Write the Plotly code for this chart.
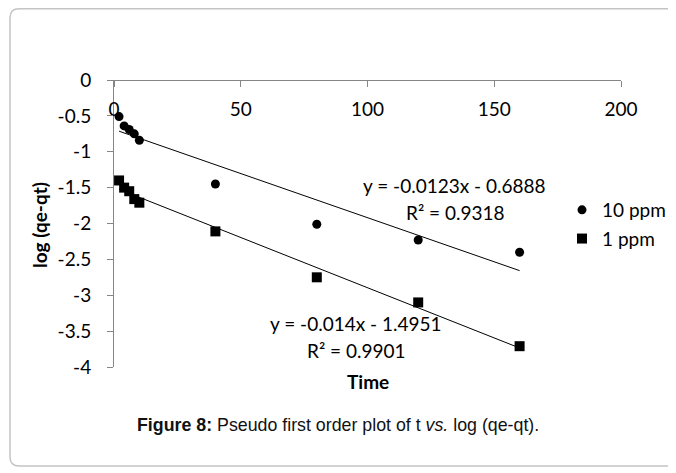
import plotly.graph_objects as go

# Data
time = [2, 4, 6, 8, 10, 40, 80, 120, 160]
log_10ppm = [-0.51, -0.64, -0.69, -0.75, -0.84, -1.45, -2.01, -2.23, -2.40]
log_1ppm = [-1.40, -1.50, -1.55, -1.66, -1.71, -2.11, -2.75, -3.10, -3.71]
series_names = ["10 ppm", "1 ppm"]
slopes = [-0.0123, -0.014]
intercepts = [-0.6888, -1.4951]
eq_texts = ["y = -0.0123x - 0.6888", "y = -0.014x - 1.4951"]
r2_texts = ["R² = 0.9318", "R² = 0.9901"]
x_ticks = [0, 50, 100, 150, 200]
y_ticks = [0, -0.5, -1, -1.5, -2, -2.5, -3, -3.5, -4]
y_ticktext = ["0", "-0.5", "-1", "-1.5", "-2", "-2.5", "-3", "-3.5", "-4"]

FONT = "Lato"
FS = 19

fig = go.Figure()

# trendlines
for s, b in zip(slopes, intercepts):
    xs = [time[0], time[-1]]
    fig.add_trace(go.Scatter(x=xs, y=[s * v + b for v in xs], mode="lines",
                             line=dict(color="black", width=1), showlegend=False,
                             hoverinfo="skip"))

fig.add_trace(go.Scatter(x=time, y=log_10ppm, mode="markers", name=series_names[0],
                         legendgroup="a",
                         marker=dict(symbol="circle", size=9, color="black")))
fig.add_trace(go.Scatter(x=time, y=log_1ppm, mode="markers", name=series_names[1],
                         legendgroup="b",
                         marker=dict(symbol="square", size=10, color="black")))

# page has an 8px body margin; work in page pixel coordinates
OFF = 8
W, H = 676 - OFF, 473 - OFF
L, R, T, B = 114 - OFF, 55, 80 - OFF, 106
pw, ph = W - L - R, H - T - B

def px(x):
    return (x - OFF - L) / pw

def py(y):
    return (H - B - (y - OFF)) / ph

annos = [
    dict(text=eq_texts[0], x=px(454), y=py(185)),
    dict(text=r2_texts[0], x=px(455), y=py(212)),
    dict(text=eq_texts[1], x=px(356), y=py(323)),
    dict(text=r2_texts[1], x=px(356), y=py(350)),
    dict(text="<b>Time</b>", x=px(368), y=py(381)),
    dict(text="<b>log (qe-qt)</b>", x=px(39), y=py(225), textangle=-90),
]
for a in annos:
    fig.add_annotation(xref="paper", yref="paper", showarrow=False,
                       xanchor="center", yanchor="middle",
                       font=dict(family=FONT, size=FS, color="black"), **a)

fig.add_annotation(xref="paper", yref="paper", showarrow=False,
                   x=px(338), y=py(425), xanchor="center", yanchor="middle",
                   text="<b>Figure 8:</b> Pseudo first order plot of t <i>vs.</i> log (qe-qt).",
                   font=dict(family="Liberation Sans", size=17.8, color="#111111"))

# rounded border
x0, x1 = px(10), px(700)
y0, y1 = py(466), py(8.8)
rx, ry = 9 / pw, 9 / ph
path = (f"M {x0+rx},{y1} L {x1-rx},{y1} Q {x1},{y1} {x1},{y1-ry} "
        f"L {x1},{y0+ry} Q {x1},{y0} {x1-rx},{y0} L {x0+rx},{y0} "
        f"Q {x0},{y0} {x0},{y0+ry} L {x0},{y1-ry} Q {x0},{y1} {x0+rx},{y1} Z")
fig.add_shape(type="path", path=path, xref="paper", yref="paper",
              line=dict(color="#c4c4c4", width=1.5))

fig.update_layout(
    width=W, height=H,
    margin=dict(l=L, r=R, t=T, b=B, autoexpand=False),
    paper_bgcolor="white", plot_bgcolor="white",
    font=dict(family=FONT, size=FS, color="black"),
    showlegend=True,
    legend=dict(x=px(562), y=py(191), xanchor="left", yanchor="top",
                font=dict(family=FONT, size=FS), tracegroupgap=1,
                bgcolor="rgba(0,0,0,0)", itemwidth=30),
    xaxis=dict(range=[0, 200], tickvals=x_ticks, anchor="free", position=1,
               side="bottom", showline=True, linecolor="#868686", linewidth=1,
               ticks="outside", ticklen=6, tickcolor="#868686", automargin=False,
               showgrid=False, zeroline=False, ticklabelstandoff=6,
               tickfont=dict(family=FONT, size=FS)),
    yaxis=dict(range=[-4, 0], tickvals=y_ticks, ticktext=y_ticktext, domain=[0, 1],
               showline=True, linecolor="#868686", linewidth=1, automargin=False,
               ticks="outside", ticklen=6, tickcolor="#868686",
               showgrid=False, zeroline=False, ticklabelstandoff=12,
               tickfont=dict(family=FONT, size=FS)),
)

fig.write_html("out.html")
